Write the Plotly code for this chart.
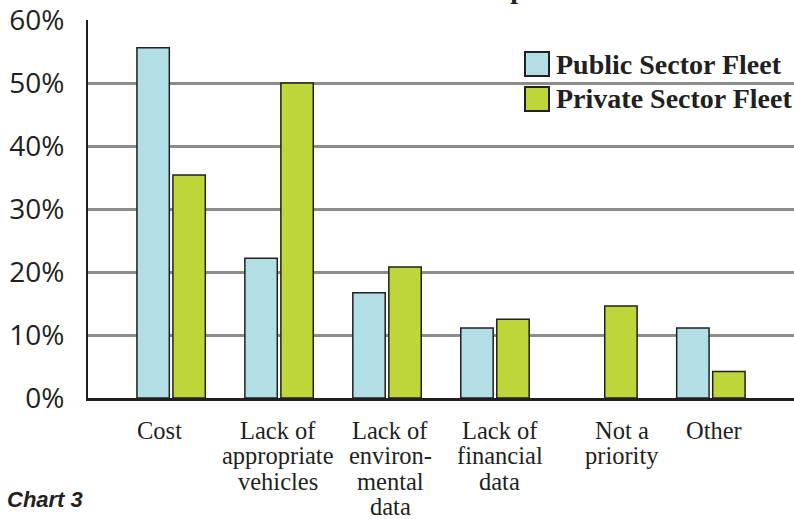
import plotly.graph_objects as go

# ---- data ----
categories = ["Cost", "Lack of appropriate vehicles", "Lack of environmental data",
              "Lack of financial data", "Not a priority", "Other"]
label_lines = [["Cost"], ["Lack of", "appropriate", "vehicles"],
               ["Lack of", "environ-", "mental", "data"],
               ["Lack of", "financial", "data"], ["Not a", "priority"], ["Other"]]
public_sector = [55.6, 22.2, 16.7, 11.1, 0.0, 11.1]
private_sector = [35.4, 50.0, 20.8, 12.5, 14.6, 4.2]
series_names = ["Public Sector Fleet", "Private Sector Fleet"]
y_ticks = [0, 10, 20, 30, 40, 50, 60]
y_ticktext = [f"{v}%" for v in y_ticks]
title_text = "Environmental Impact"
caption_text = "Chart 3"

# ---- style / layout ----
W, H = 794, 519
ML, MR, MT, MB = 88, 0, 20, 121
PW, PH = W - ML - MR, H - MT - MB
BLUE = "#b1dfe5"
GREEN = "#bed63a"
INK = "#231f20"
GRID = "#8c8c8c"
label_xshift = [-12, -1, 3, 5, 19, 3]


def px_x(p):
    return (p - ML) / PW


def px_y(p):
    return (H - MB - p) / PH


def outline(vals):
    return [1.5 if v > 0 else 0 for v in vals]


fig = go.Figure()
fig.add_trace(go.Bar(x=categories, y=public_sector, name=series_names[0],
                     marker=dict(color=BLUE, line=dict(color=INK, width=outline(public_sector)))))
fig.add_trace(go.Bar(x=categories, y=private_sector, name=series_names[1],
                     marker=dict(color=GREEN, line=dict(color=INK, width=outline(private_sector)))))

annotations = []
# category labels, one line per annotation for tight line spacing
for i, lines in enumerate(label_lines):
    for k, line in enumerate(lines):
        annotations.append(dict(
            x=categories[i], xref="x", y=0, yref="paper",
            text=line, showarrow=False, xanchor="center", yanchor="middle",
            xshift=label_xshift[i], yshift=-(32 + 25.5 * k),
            font=dict(family="Liberation Serif, Times New Roman, serif", size=24.5, color=INK)))

# title (cut off at the top as in the reference)
annotations.append(dict(x=px_x(425), y=1 + 13.5 / PH, xref="paper", yref="paper",
                        text=f"<b>{title_text}</b>", showarrow=False,
                        xanchor="center", yanchor="bottom",
                        font=dict(family="Liberation Serif, serif", size=28, color=INK)))
# caption
annotations.append(dict(x=px_x(5), y=px_y(499), xref="paper", yref="paper",
                        text=f"<b><i>{caption_text}</i></b>", showarrow=False,
                        xanchor="left", yanchor="middle",
                        font=dict(family="Liberation Sans, Arial, sans-serif", size=22, color=INK)))

# manual legend
shapes = []
legend_colors = [BLUE, GREEN]
legend_rows = [64, 99]
for name, col, yc in zip(series_names, legend_colors, legend_rows):
    shapes.append(dict(type="rect", xref="paper", yref="paper",
                       x0=px_x(525), x1=px_x(549), y0=px_y(yc - 12), y1=px_y(yc + 12),
                       fillcolor=col, line=dict(color=INK, width=2)))
    annotations.append(dict(x=px_x(554), y=px_y(yc), xref="paper", yref="paper",
                            text=f"<b>{name}</b>", showarrow=False,
                            xanchor="left", yanchor="middle",
                            font=dict(family="Liberation Serif, serif", size=28, color=INK)))

fig.update_layout(
    width=W, height=H,
    margin=dict(l=ML, r=MR, t=MT, b=MB, pad=0),
    paper_bgcolor="white", plot_bgcolor="white",
    barmode="group", bargap=0.333, bargroupgap=0.1,
    showlegend=False,
    annotations=annotations, shapes=shapes,
    xaxis=dict(type="category", range=[-0.77, 5.77], showticklabels=False,
               showline=True, linecolor=INK, linewidth=3, ticks="",
               showgrid=False, zeroline=False),
    yaxis=dict(range=[0, 60], tickvals=y_ticks, ticktext=y_ticktext,
               showline=True, linecolor=INK, linewidth=2,
               showgrid=True, gridcolor=GRID, gridwidth=2.5, zeroline=False,
               ticks="", ticklabelstandoff=16, ticklabeloverflow="allow",
               tickfont=dict(family="Open Sans, sans-serif", size=28, color=INK)),
)

fig.write_html("out.html")
